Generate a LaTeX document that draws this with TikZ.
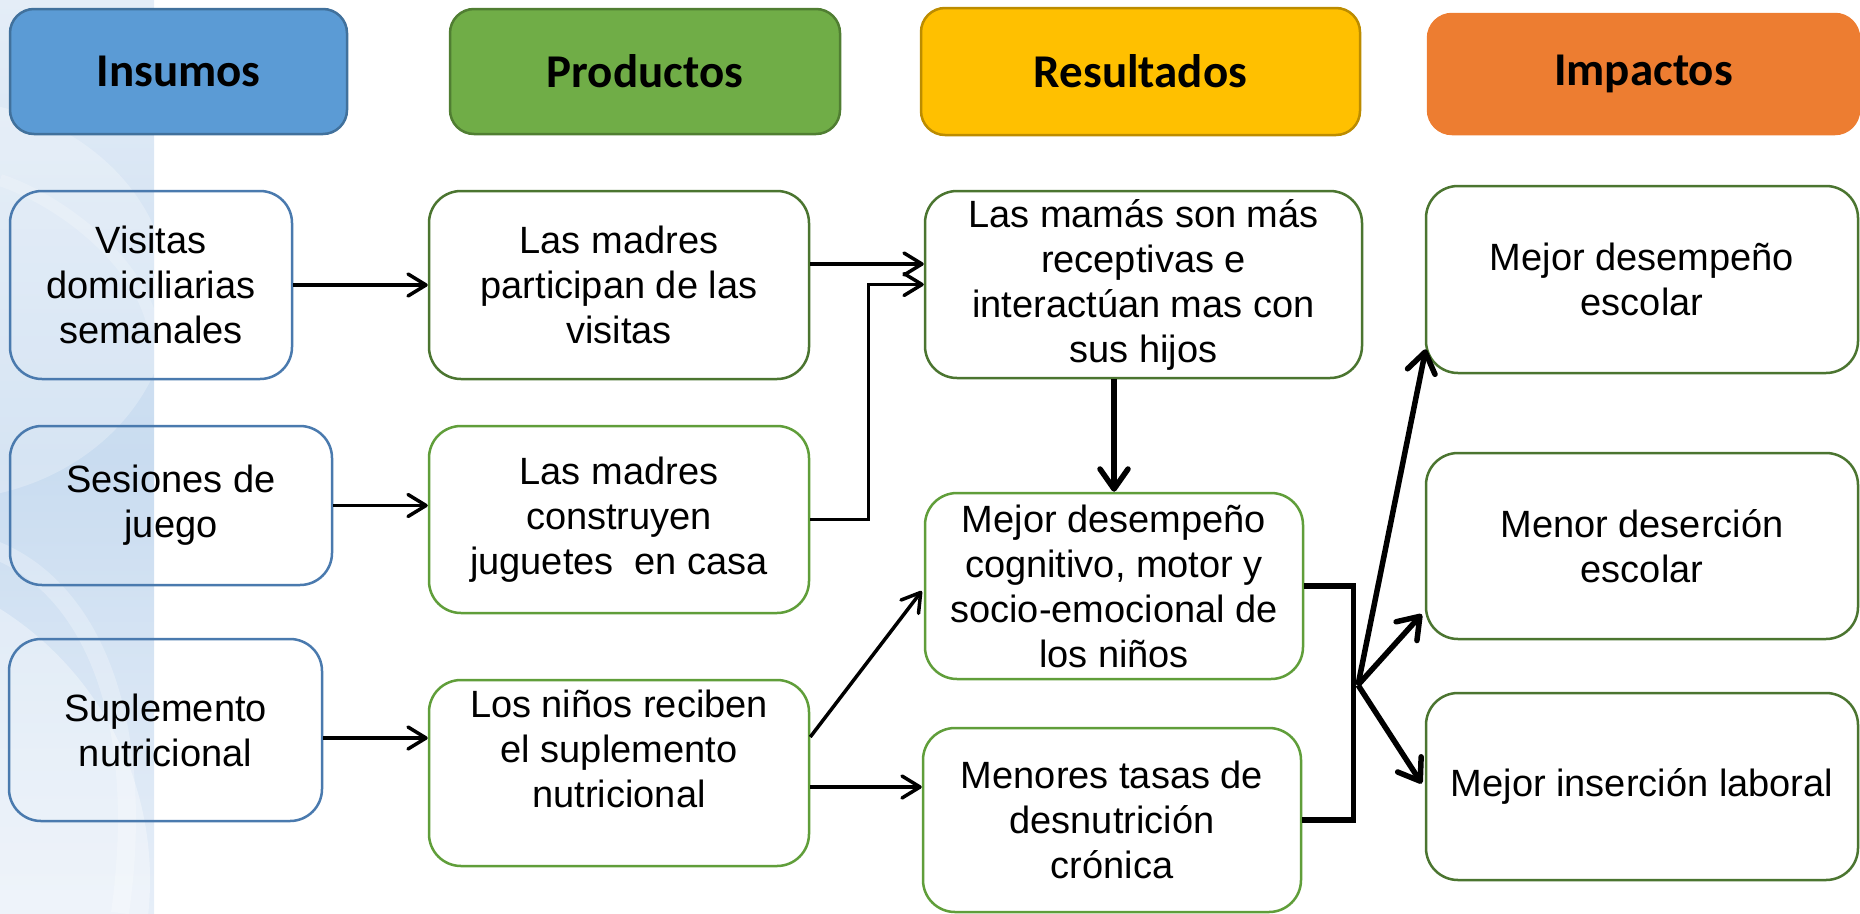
\documentclass[tikz,border=0pt]{standalone}
\usepackage{fontspec}
\setmainfont{Liberation Sans}
\newfontfamily\hdrfont{Carlito}
\usetikzlibrary{arrows.meta,calc}
\definecolor{hBlue}{HTML}{5B9BD5}
\definecolor{hBlueE}{HTML}{41719C}
\definecolor{hGreen}{HTML}{70AD47}
\definecolor{hGreenE}{HTML}{507E32}
\definecolor{hGold}{HTML}{FFC000}
\definecolor{hGoldE}{HTML}{BC8C00}
\definecolor{hOrange}{HTML}{ED7D31}
\definecolor{boxBlue}{HTML}{4A7AAE}
\definecolor{gDark}{HTML}{4B7530}
\definecolor{gLight}{HTML}{609E3A}
\definecolor{bandA}{HTML}{E4EDF7}
\definecolor{bandB}{HTML}{C9DCF0}
\definecolor{bandC}{HTML}{E6EEF8}
\begin{document}
\begin{tikzpicture}[x=1pt,y=-1pt,
  hdr/.style={rounded corners=24pt, line width=2.5pt, inner sep=0pt,
    font=\hdrfont\bfseries\fontsize{47}{54}\selectfont},
  box/.style={rounded corners=32pt, line width=2.5pt, align=center, inner sep=0pt,
    font=\fontsize{38}{45}\selectfont},
  inbox/.style={box, draw=boxBlue},
  gbox/.style={box, draw=gDark, fill=white},
  lbox/.style={box, draw=gLight, fill=white},
  txt/.style={align=center, inner sep=0pt, font=\fontsize{38}{45}\selectfont},
  thinarrow/.style={line width=3.5pt, -{Straight Barb[length=18pt,width=22pt,round]}},
  thickarrow/.style={line width=5.5pt, -{Straight Barb[length=20pt,width=28pt,round]}},
  thickline/.style={line width=5.5pt},
]
\useasboundingbox (0,0) rectangle (1860,913);
% background band
\begin{scope}
  \clip (0,0) rectangle (154,913);
  \shade[top color=bandA, bottom color=bandC, middle color=bandB] (0,0) rectangle (154,913);
  \fill[white, opacity=0.25] (-60,300) ellipse (230 and 200);
  \fill[white, opacity=0.35] (-170,880) circle (320);
  \draw[white, opacity=0.25, line width=18pt] (-40,540) .. controls (80,560) and (150,700) .. (120,913);
  \draw[white, opacity=0.2, line width=12pt] (0,180) .. controls (60,200) and (140,260) .. (154,330);
\end{scope}

% headers
\node[hdr, draw=hBlueE, fill=hBlue, minimum width=337, minimum height=125] (hIn) at (178.5,71.5) {Insumos};
\node[hdr, draw=hGreenE, fill=hGreen, minimum width=390, minimum height=125] (hPr) at (645,71.5) {Productos};
\node[hdr, draw=hGoldE, fill=hGold, minimum width=439, minimum height=127] (hRe) at (1140.5,71.5) {Resultados};
\node[hdr, draw=hOrange, fill=hOrange, minimum width=431, minimum height=120] (hIm) at (1643.5,74) {Impactos};

% inputs
\node[inbox, minimum width=282, minimum height=188] (vis) at (151,285) {Visitas\\domiciliarias\\semanales};
\node[inbox, minimum width=322, minimum height=159] (ses) at (171,505.5) {Sesiones de\\juego};
\node[inbox, minimum width=313, minimum height=182] (sup) at (165.5,730) {Suplemento\\nutricional};

% products
\node[gbox, minimum width=380, minimum height=188] (par) at (619,285) {Las madres\\participan de las\\visitas};
\node[lbox, minimum width=380, minimum height=187] (con) at (619,519.5) {Las madres\\construyen\\juguetes\ \ en casa};
\node[lbox, minimum width=380, minimum height=186] (rec) at (619,773) {};
\node[txt] (rect) at ($(rec.center)+(0,-24)$) {Los niños reciben\\el suplemento\\nutricional};

% results
\node[gbox, minimum width=437, minimum height=187] (mam) at (1143.5,284.5) {Las mamás son más\\receptivas e\\interactúan mas con\\sus hijos};
\node[lbox, minimum width=378, minimum height=186] (cog) at (1114,586) {Mejor desempeño\\cognitivo, motor y\\socio-emocional de\\los niños};
\node[lbox, minimum width=378, minimum height=184] (men) at (1112,820) {Menores tasas de\\desnutrición\\crónica};

% impacts
\node[gbox, minimum width=432, minimum height=187] (esc) at (1642,279.5) {Mejor desempeño\\escolar};
\node[gbox, minimum width=432, minimum height=186] (des) at (1642,546) {Menor deserción\\escolar};
\node[gbox, minimum width=432, minimum height=187] (ins) at (1642,786.5) {Mejor inserción laboral};

% connectors
\draw[thinarrow] (vis.east) -- (par.west);
\draw[thinarrow] (ses.east) -- (ses.east -| con.west);
\coordinate (a3) at ($(sup.east)+(0,8)$);
\draw[thinarrow] (a3) -- (a3 -| rec.west);
\coordinate (a4) at ($(par.east)+(0,-21)$);
\draw[thinarrow] (a4) -- (a4 -| mam.west);
\draw[thinarrow] (con.east) -- ++(58,0) |- (mam.west);
\coordinate (a6) at ($(rec.east)+(0,-36)$);
\draw[thinarrow] (a6) -- ($(cog.west)+(-2,5)$);
\coordinate (a7) at ($(rec.east)+(0,14)$);
\draw[thinarrow] (a7) -- (a7 -| men.west);
\draw[thickarrow] (cog.north |- mam.south) -- (cog.north);
\draw[thickline] (cog.east) -- ++(49,0) |- (men.east);
\coordinate (fan) at (1358,685);
\draw[thickarrow] (fan) -- ($(esc.south west)+(1,-25)$);
\draw[thickarrow] (fan) -- ($(des.south west)+(-3,-26)$);
\draw[thickarrow] (fan) -- ($(ins.west)+(-3,-3)$);
\end{tikzpicture}
\end{document}
